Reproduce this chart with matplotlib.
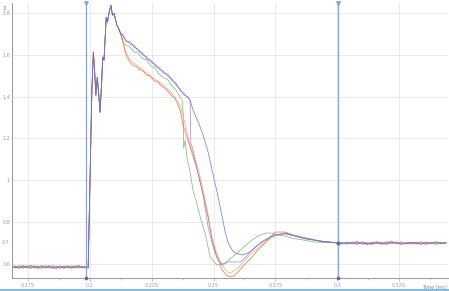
import matplotlib.pyplot as plt
from matplotlib.lines import Line2D

# x tick values / labels
x_ticks = [0.175, 0.2, 0.225, 0.25, 0.275, 0.3, 0.325]
x_labels = ["0.175", "0.2", "0.225", "0.25", "0.275", "0.3", "0.325"]
y_ticks = [0.6, 0.8, 1.0, 1.2, 1.4, 1.6, 1.8]
y_labels = ["0.6", "0.8", "1", "1.2", "1.4", "1.6", "1.8"]

cursors = [0.1985, 0.3004]

# baseline before the step (shared times)
t_base = [0.1685, 0.1700, 0.1715, 0.1730, 0.1745, 0.1760, 0.1775, 0.1790, 0.1805, 0.1820, 0.1835,
          0.1850, 0.1865, 0.1880, 0.1895, 0.1910, 0.1925, 0.1940, 0.1955, 0.1970, 0.1985]
base_red = [0.584, 0.578, 0.590, 0.580, 0.587, 0.576, 0.589, 0.582, 0.579, 0.591, 0.583,
            0.577, 0.588, 0.581, 0.586, 0.578, 0.590, 0.583, 0.579, 0.587, 0.584]
base_orange = [0.586, 0.580, 0.588, 0.577, 0.584, 0.589, 0.581, 0.578, 0.587, 0.583, 0.580,
               0.588, 0.579, 0.585, 0.582, 0.590, 0.579, 0.584, 0.586, 0.578, 0.584]
base_green = [0.582, 0.586, 0.579, 0.584, 0.590, 0.580, 0.585, 0.588, 0.578, 0.584, 0.591,
              0.579, 0.583, 0.587, 0.577, 0.585, 0.582, 0.589, 0.580, 0.584, 0.583]
base_blue = [0.580, 0.589, 0.577, 0.586, 0.581, 0.592, 0.579, 0.585, 0.590, 0.578, 0.587,
             0.582, 0.576, 0.589, 0.580, 0.588, 0.577, 0.586, 0.591, 0.580, 0.583]
base_purple = [0.587, 0.581, 0.584, 0.592, 0.578, 0.583, 0.590, 0.576, 0.586, 0.582, 0.579,
               0.591, 0.584, 0.577, 0.589, 0.583, 0.585, 0.578, 0.588, 0.582, 0.581]

# step and overshoot, identical for every run
t_rise = [0.1993, 0.1997, 0.2003, 0.2008, 0.2014, 0.2019, 0.2024, 0.2030, 0.2035, 0.2041, 0.2047,
          0.2052, 0.2057, 0.2066, 0.2071, 0.2078, 0.2085, 0.2091, 0.2098, 0.2104, 0.2109, 0.2116]
v_rise = [0.579, 0.809, 1.144, 1.431, 1.613, 1.526, 1.407, 1.493, 1.421, 1.325, 1.455,
          1.589, 1.574, 1.780, 1.756, 1.804, 1.837, 1.790, 1.799, 1.766, 1.742, 1.727]

# decay per run
t_red = [0.2122, 0.2133, 0.2140, 0.2150, 0.2163, 0.2172, 0.2181, 0.2190, 0.2199, 0.2208, 0.2217,
         0.2230, 0.2240, 0.2250, 0.2264, 0.2275, 0.2285, 0.2296, 0.2307, 0.2318, 0.2332, 0.2343,
         0.2354, 0.2365, 0.2377, 0.2405, 0.2434, 0.2454, 0.2478, 0.2494, 0.2511, 0.2535, 0.2551,
         0.2567, 0.2583, 0.2599, 0.2628, 0.2656, 0.2680, 0.2709, 0.2729, 0.2749, 0.2790, 0.2822,
         0.2858, 0.2911, 0.2951, 0.3004]
v_red = [1.708, 1.670, 1.622, 1.589, 1.565, 1.552, 1.548, 1.541, 1.530, 1.527, 1.519,
         1.502, 1.500, 1.488, 1.474, 1.470, 1.455, 1.445, 1.437, 1.421, 1.402, 1.392,
         1.366, 1.335, 1.263, 1.158, 1.048, 0.952, 0.823, 0.713, 0.641, 0.569, 0.545,
         0.536, 0.541, 0.560, 0.598, 0.632, 0.665, 0.699, 0.727, 0.751, 0.751, 0.737,
         0.727, 0.713, 0.703, 0.699]

t_orange = [0.2122, 0.2134, 0.2146, 0.2163, 0.2195, 0.2230, 0.2264, 0.2296, 0.2332, 0.2365, 0.2381,
            0.2405, 0.2434, 0.2458, 0.2478, 0.2494, 0.2511, 0.2527, 0.2543, 0.2559, 0.2575, 0.2599,
            0.2628, 0.2656, 0.2688, 0.2721, 0.2749, 0.2790, 0.2830, 0.2870, 0.2931, 0.3004]
v_orange = [1.708, 1.660, 1.612, 1.574, 1.545, 1.512, 1.483, 1.455, 1.416, 1.359, 1.287,
            1.167, 1.072, 0.952, 0.833, 0.722, 0.655, 0.608, 0.579, 0.555, 0.560, 0.579,
            0.617, 0.651, 0.684, 0.713, 0.732, 0.746, 0.732, 0.722, 0.708, 0.699]

t_green = [0.2122, 0.2133, 0.2146, 0.2163, 0.2179, 0.2195, 0.2211, 0.2230, 0.2248, 0.2264, 0.2280,
           0.2296, 0.2316, 0.2332, 0.2349, 0.2365, 0.2373, 0.2377, 0.2379, 0.2385, 0.2392, 0.2405,
           0.2417, 0.2434, 0.2446, 0.2466, 0.2486, 0.2502, 0.2515, 0.2531, 0.2547, 0.2571, 0.2599,
           0.2628, 0.2656, 0.2680, 0.2709, 0.2737, 0.2761, 0.2790, 0.2818, 0.2862, 0.2911, 0.3004]
v_green = [1.708, 1.660, 1.646, 1.636, 1.612, 1.608, 1.584, 1.574, 1.545, 1.536, 1.507,
           1.493, 1.479, 1.450, 1.431, 1.397, 1.383, 1.325, 1.153, 1.191, 1.110, 1.038,
           0.952, 0.880, 0.823, 0.746, 0.632, 0.608, 0.593, 0.598, 0.603, 0.627, 0.655,
           0.684, 0.713, 0.732, 0.746, 0.746, 0.737, 0.732, 0.722, 0.713, 0.703, 0.699]

t_blue = [0.2122, 0.2134, 0.2146, 0.2163, 0.2179, 0.2195, 0.2211, 0.2230, 0.2248, 0.2264, 0.2280,
          0.2296, 0.2316, 0.2332, 0.2349, 0.2365, 0.2381, 0.2397, 0.2405, 0.2417, 0.2438, 0.2458,
          0.2478, 0.2494, 0.2515, 0.2535, 0.2547, 0.2559, 0.2575, 0.2587, 0.2616, 0.2640, 0.2656,
          0.2680, 0.2709, 0.2729, 0.2749, 0.2790, 0.2830, 0.2870, 0.2931, 0.3004]
v_blue = [1.708, 1.694, 1.665, 1.661, 1.636, 1.627, 1.603, 1.589, 1.564, 1.555, 1.531,
          1.522, 1.497, 1.484, 1.454, 1.436, 1.407, 1.397, 1.383, 1.335, 1.278, 1.215,
          1.134, 1.048, 0.938, 0.823, 0.751, 0.699, 0.665, 0.651, 0.641, 0.651, 0.665,
          0.689, 0.713, 0.727, 0.737, 0.746, 0.732, 0.718, 0.708, 0.699]

t_purple = [0.2122, 0.2134, 0.2146, 0.2163, 0.2179, 0.2195, 0.2211, 0.2230, 0.2248, 0.2264, 0.2280,
            0.2296, 0.2316, 0.2332, 0.2349, 0.2365, 0.2381, 0.2397, 0.2405, 0.2408, 0.2417, 0.2434,
            0.2458, 0.2478, 0.2494, 0.2506, 0.2519, 0.2535, 0.2559, 0.2583, 0.2608, 0.2632, 0.2656,
            0.2688, 0.2721, 0.2749, 0.2790, 0.2830, 0.2870, 0.2931, 0.3004]
v_purple = [1.708, 1.688, 1.670, 1.650, 1.646, 1.617, 1.612, 1.579, 1.574, 1.545, 1.540,
            1.512, 1.507, 1.474, 1.464, 1.426, 1.416, 1.392, 1.383, 1.177, 1.144, 1.048,
            0.928, 0.775, 0.699, 0.651, 0.617, 0.593, 0.608, 0.608, 0.608, 0.632, 0.665,
            0.699, 0.722, 0.737, 0.742, 0.732, 0.722, 0.708, 0.699]

# settled part after second cursor (shared times)
t_tail = [0.302, 0.304, 0.306, 0.308, 0.310, 0.312, 0.314, 0.316, 0.318, 0.320, 0.322,
          0.324, 0.326, 0.328, 0.330, 0.332, 0.334, 0.336, 0.338, 0.340, 0.342, 0.344]
tail_red = [0.699, 0.692, 0.704, 0.695, 0.701, 0.690, 0.703, 0.697, 0.694, 0.705, 0.696,
            0.700, 0.691, 0.702, 0.698, 0.693, 0.704, 0.697, 0.699, 0.692, 0.701, 0.696]
tail_orange = [0.696, 0.701, 0.698, 0.692, 0.703, 0.699, 0.695, 0.702, 0.697, 0.691, 0.700,
               0.699, 0.704, 0.696, 0.693, 0.701, 0.697, 0.703, 0.695, 0.699, 0.702, 0.697]
tail_green = [0.697, 0.700, 0.694, 0.702, 0.698, 0.693, 0.701, 0.696, 0.700, 0.694, 0.703,
              0.697, 0.699, 0.695, 0.701, 0.697, 0.694, 0.700, 0.698, 0.702, 0.695, 0.699]
tail_blue = [0.694, 0.703, 0.697, 0.706, 0.692, 0.700, 0.696, 0.705, 0.693, 0.699, 0.707,
             0.695, 0.701, 0.694, 0.703, 0.698, 0.692, 0.702, 0.696, 0.705, 0.697, 0.700]
tail_purple = [0.701, 0.695, 0.699, 0.693, 0.704, 0.697, 0.691, 0.700, 0.703, 0.695, 0.698,
               0.704, 0.693, 0.700, 0.696, 0.702, 0.699, 0.691, 0.703, 0.697, 0.694, 0.701]

runs = [
    ("#6db36d", base_green, t_green, v_green, tail_green),
    ("#f2a468", base_orange, t_orange, v_orange, tail_orange),
    ("#e2643f", base_red, t_red, v_red, tail_red),
    ("#9a7cc4", base_purple, t_purple, v_purple, tail_purple),
    ("#5b6cd2", base_blue, t_blue, v_blue, tail_blue),
]

fig = plt.figure(figsize=(4.49, 2.91), dpi=100)
ax = fig.add_axes([12 / 449, 1 - 278 / 291, 436 / 449, 275 / 291])

for color, base, t_dec, v_dec, tail in runs:
    t = t_base + t_rise + t_dec + t_tail
    v = base + v_rise + v_dec + tail
    ax.plot(t, v, color=color, lw=0.55, alpha=0.85)

ax.set_xlim(0.1685, 0.3448)
ax.set_ylim(0.531, 1.848)

ax.set_xticks(x_ticks)
ax.set_xticklabels(x_labels)
ax.set_yticks(y_ticks)
ax.set_yticklabels(y_labels)
ax.set_xticks([0.1875, 0.2125, 0.2375, 0.2625, 0.2875, 0.3125, 0.3375], minor=True)
ax.grid(True, color="#e6e6e6", lw=0.6)
ax.tick_params(labelsize=3.5, colors="#a0a0a0", length=2, width=0.5, pad=1.5)
ax.tick_params(axis="x", which="minor", length=1.5, width=0.5, colors="#b5b5b5")
ax.tick_params(axis="y", length=0)
for s in ["top", "right"]:
    ax.spines[s].set_visible(False)
for s in ["left", "bottom"]:
    ax.spines[s].set_color("#a0a0a0")
    ax.spines[s].set_linewidth(0.8)

# cursors
for c in cursors:
    ax.axvline(c, color="#8aa6cc", lw=0.9, zorder=5)
    ax.plot([c], [1.848], marker="v", ms=2.5, color="#8aa6cc", clip_on=False, zorder=6)
    ax.plot([c], [0.531], marker="s", ms=2, color="#5a6fae", clip_on=False, zorder=6)
ax.plot([cursors[1]], [0.699], marker="o", ms=2, color="#5a6fae", zorder=6)

ax.text(-0.005, 0.699, "0.7", transform=ax.get_yaxis_transform(), ha="right", va="center",
        fontsize=3.5, color="#a0a0a0")
fig.text(2 / 449, 1 - 8 / 291, "Σ", fontsize=4.5, color="#888888", va="center")
fig.text(447 / 449, 1 - 287 / 291, "Time [ms]", fontsize=3.5, color="#888888", ha="right", va="center")

fig.add_artist(Line2D([0, 1], [0.004, 0.004], color="#8db9e2", lw=1.5, transform=fig.transFigure))

fig.savefig("out.png", dpi=100)
